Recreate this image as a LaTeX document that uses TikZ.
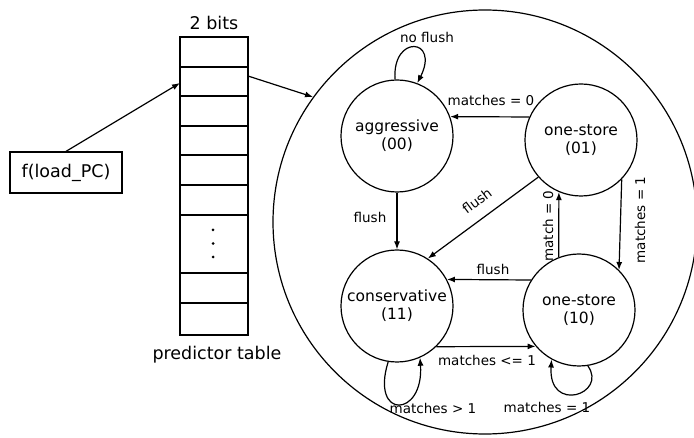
\documentclass[tikz,border=0pt]{standalone}
\usepackage{fontspec}
\setmainfont{DejaVu Sans}
\usetikzlibrary{arrows.meta}
\tikzset{
  st/.style={draw, circle, line width=1.2pt, minimum size=112pt, inner sep=0pt, align=center, font=\fontsize{15.5}{18}\selectfont},
  arr/.style={line width=1.2pt, -{Latex[length=8pt,width=6pt]}},
  lbl/.style={font=\fontsize{13.5}{15}\selectfont, inner sep=0pt},
  big/.style={font=\fontsize{17.5}{20}\selectfont, inner sep=0pt},
}
\begin{document}
\begin{tikzpicture}[x=1pt,y=-1pt]
\useasboundingbox (0,0) rectangle (694,438);
% predictor table
\node[draw, line width=1.3pt, minimum width=68pt, minimum height=298pt, inner sep=0pt] (tbl) at (214,186) {};
\foreach \yy in {67,96,126,155,185,215,273,303} \draw[line width=1.3pt] (180,\yy) -- (248,\yy);
\foreach \yy in {230,243.5,257} \fill (213,\yy) circle (1.5pt);
\node[big] (bits) at (214,23) {2 bits};
\node[big] (ptab) at (217,355) {predictor table};
\coordinate (tin) at (180,83);
\coordinate (tout) at (248,76);
% f box
\node[draw, line width=1.2pt, minimum width=112pt, minimum height=41pt, inner sep=0pt, big] (f) at (66,172.5) {f(load\_PC)};
\draw[arr] (f.north) -- (tin);
% big circle
\node[draw, circle, line width=1.2pt, minimum size=424pt, inner sep=0pt] (fsm) at (485,222) {};
\coordinate (hit) at (313,97);
\draw[arr] (tout) -- (hit);
% states
\node[st] (agg) at (397,136) {aggressive\\(00)};
\node[st] (s01) at (581,140) {one-store\\(01)};
\node[st] (cons) at (397,306) {conservative\\(11)};
\node[st] (s10) at (579,310) {one-store\\(10)};
% edges
\draw[arr] (s01.156) -- (agg.20);
\draw[arr] (agg.270) -- (cons.90);
\draw[arr] (s01.221) -- (cons.57);
\draw[arr] (s10.111) -- (s01.247);
\draw[arr] (s01.316) -- (s10.45);
\draw[arr] (s10.148) -- (cons.28);
\draw[arr] (cons.-46) -- (s10.220);
\draw[arr] (agg.92) .. controls (392,34) and (440,38) .. (agg.69);
\draw[arr] (cons.261) .. controls (370,420) and (424,418) .. (cons.294);
\draw[arr] (s10.279) .. controls (608,394) and (548,414) .. (s10.241);
% labels
\node[lbl] (l1) at (427,37) {no flush};
\node[lbl] (l2) at (491,100) {matches = 0};
\node[lbl] (l3) at (370,217) {flush};
\node[lbl, rotate=37] (l4) at (477,201) {flush};
\node[lbl, rotate=90] (l5) at (548,226) {match = 0};
\node[lbl, rotate=90] (l6) at (640,220) {matches = 1};
\node[lbl] (l7) at (493,269) {flush};
\node[lbl] (l8) at (487,360) {matches <= 1};
\node[lbl] (l9) at (433,408) {matches > 1};
\node[lbl] (l10) at (547,407) {matches = 1};
\end{tikzpicture}
\end{document}
